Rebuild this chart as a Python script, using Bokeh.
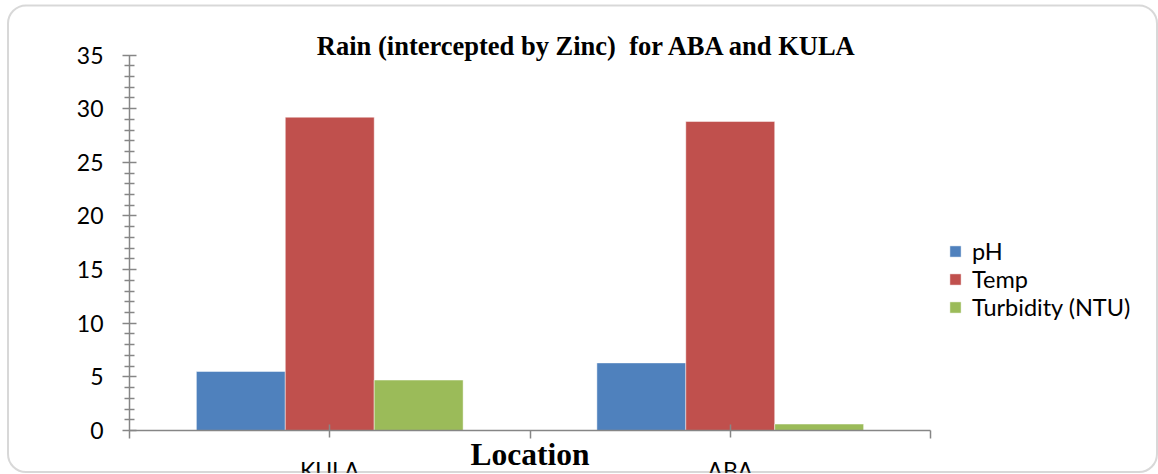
from bokeh.plotting import figure
from bokeh.models import (ColumnDataSource, Range1d, LinearAxis, FixedTicker,
                          Legend, LegendItem, Label, BoxAnnotation)
from bokeh.transform import dodge
from bokeh.embed import file_html
from bokeh.resources import INLINE

# ---- data ----
locations = ["KULA", "ABA"]
ph = [5.5, 6.3]
temp = [29.2, 28.8]
turbidity = [4.7, 0.6]
series_names = ["pH", "Temp", "Turbidity (NTU)"]
series_colors = ["#4F81BD", "#C0504D", "#9BBB59"]
y_ticks = [0, 5, 10, 15, 20, 25, 30, 35]
title_text = "Rain (intercepted by Zinc)  for ABA and KULA"
x_title = "Location"

# ---- layout (pixels) ----
W, H = 1158, 474
plot_left, plot_right, plot_top, plot_bottom = 129.0, 930.0, 54.5, 430.0
sans = "Lato"

n = len(locations)
ymax = y_ticks[-1]
xpx = (plot_right - plot_left) / n
ypx = (plot_bottom - plot_top) / ymax
x_range = Range1d(-plot_left / xpx, n + (W - plot_right) / xpx)
y_range = Range1d(-(H - plot_bottom) / ypx, ymax + plot_top / ypx)

xc = [i + 0.5 for i in range(n)]
src = ColumnDataSource(dict(loc=locations, xc=xc, ph=ph, temp=temp, turb=turbidity))

p = figure(width=W, height=H, x_range=x_range, y_range=y_range,
           output_backend="svg", toolbar_location=None,
           x_axis_type=None, y_axis_type=None,
           min_border_left=0, min_border_right=0,
           min_border_top=0, min_border_bottom=0)
p.outline_line_color = None
p.grid.visible = False
p.background_fill_color = "white"
p.border_fill_color = "white"

bw = 0.222
cols = ["ph", "temp", "turb"]
offsets = [-bw, 0.0, bw]
renderers = []
for c, off, col in zip(cols, offsets, series_colors):
    r = p.vbar(x=dodge("xc", off, range=p.x_range), top=c, width=bw, source=src,
               fill_color=col, line_color="white", line_alpha=0.45, line_width=1)
    renderers.append(r)

axis_gray = "#868686"

# y axis (fixed at x = 0)
yaxis = LinearAxis(ticker=FixedTicker(ticks=y_ticks,
                                      minor_ticks=[v for v in range(0, ymax + 1) if v % 5]),
                   fixed_location=0, bounds=(0, ymax))
yaxis.axis_line_color = axis_gray
yaxis.axis_line_width = 1.5
yaxis.major_tick_line_color = axis_gray
yaxis.major_tick_line_width = 1.5
yaxis.minor_tick_line_color = axis_gray
yaxis.minor_tick_line_width = 1.5
yaxis.major_tick_in = 7
yaxis.major_tick_out = 7
yaxis.minor_tick_in = 5
yaxis.minor_tick_out = 5
yaxis.major_label_text_font = sans
yaxis.major_label_text_font_size = "23px"
yaxis.major_label_text_color = "#000000"
yaxis.major_label_standoff = 19
p.add_layout(yaxis, "left")

# x axis (fixed at y = 0): labels at category centres, boundary ticks as minor ticks
xaxis = LinearAxis(ticker=FixedTicker(ticks=xc, minor_ticks=list(range(n + 1))),
                   fixed_location=0, bounds=(0, n))
xaxis.major_label_overrides = {x: name for x, name in zip(xc, locations)}
xaxis.axis_line_color = axis_gray
xaxis.axis_line_width = 1.5
xaxis.major_tick_line_color = axis_gray
xaxis.major_tick_line_width = 1.5
xaxis.minor_tick_line_color = axis_gray
xaxis.minor_tick_line_width = 1.5
xaxis.major_tick_in = 6
xaxis.major_tick_out = 7
xaxis.minor_tick_in = 0
xaxis.minor_tick_out = 8
xaxis.major_label_text_font = sans
xaxis.major_label_text_font_size = "23px"
xaxis.major_label_text_color = "#000000"
xaxis.major_label_standoff = 17
p.add_layout(xaxis, "below")

# title (second space kept as a no-break space so SVG does not collapse it)
p.add_layout(Label(x=587, y=H - 45.5, x_units="screen", y_units="screen",
                   text=title_text.replace("  ", " \u00a0"),
                   text_font="Liberation Serif", text_font_style="bold", text_font_size="26.5px",
                   text_align="center", text_baseline="alphabetic", text_color="#000000"))

# axis title
p.add_layout(Label(x=(plot_left + plot_right) / 2, y=H - 454, x_units="screen", y_units="screen",
                   text=x_title, text_font="Liberation Serif", text_font_style="bold",
                   text_font_size="31.5px", text_align="center", text_baseline="alphabetic",
                   text_color="#000000"))

# legend
items = [LegendItem(label=nm, renderers=[r]) for nm, r in zip(series_names, renderers)]
legend = Legend(items=items, location=(948, H - 320.5), orientation="vertical",
                glyph_width=14, glyph_height=14, label_standoff=10,
                padding=0, spacing=0, margin=0,
                border_line_alpha=0, background_fill_alpha=0,
                label_text_font=sans, label_text_font_size="23.5px",
                label_text_color="#000000")
p.add_layout(legend)

# white strip below the chart border (the reference cuts the labels there)
p.add_layout(BoxAnnotation(left=0, right=W, bottom=0, top=H - 472.5,
                           left_units="screen", right_units="screen",
                           top_units="screen", bottom_units="screen",
                           fill_color="white", fill_alpha=1, line_alpha=0))

# rounded chart border
p.add_layout(BoxAnnotation(left=7.5, right=W - 1.5, bottom=H - 471.5, top=H - 5,
                           left_units="screen", right_units="screen",
                           top_units="screen", bottom_units="screen",
                           fill_alpha=0, line_color="#7f7f7f", line_width=2,
                           border_radius=18))

open("out.html", "w").write(file_html(p, INLINE))
